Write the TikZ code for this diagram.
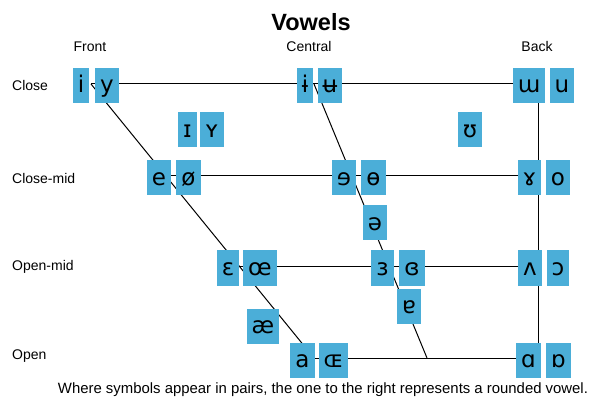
\documentclass[tikz,border=0pt]{standalone}
\usepackage{fontspec}
\setmainfont{Liberation Sans}
\newfontfamily\ipafont{DejaVu Sans}
\usetikzlibrary{calc}
\definecolor{vowelblue}{RGB}{75,174,216}
\tikzstyle{vowel}=[fill=vowelblue, font=\ipafont\fontsize{23}{23}\selectfont, inner xsep=5pt, inner ysep=4pt, text height=21pt, text depth=6pt]
\tikzstyle{rowlabel}=[anchor=west, inner sep=0pt, font=\fontsize{14}{14}\selectfont]
\tikzstyle{collabel}=[inner sep=0pt, font=\fontsize{14}{14}\selectfont]
\tikzstyle{edge}=[line width=1pt]
\newcommand{\closeY}{84}
\newcommand{\openY}{358}

\begin{document}
\begin{tikzpicture}[x=1pt,y=-1pt]
\useasboundingbox (0,0) rectangle (596,411);
% corners of the trapezoid
\coordinate (cf) at (91,\closeY);
\coordinate (of) at (314,\openY);
\coordinate (cc) at (314,\closeY);
\coordinate (oc) at (427,\openY);
\coordinate (cb) at (538,\closeY);
\coordinate (ob) at (538,\openY);
\coordinate (cmf) at ($(cf)!1/3!(of)$);
\coordinate (cmb) at ($(cb)!1/3!(ob)$);
\coordinate (omf) at ($(cf)!2/3!(of)$);
\coordinate (omb) at ($(cb)!2/3!(ob)$);
\draw[edge] (cf) -- (cb);
\draw[edge] (cmf) -- (cmb);
\draw[edge] (omf) -- (omb);
\draw[edge] (of) -- (ob);
\draw[edge] (cf) -- (of);
\draw[edge] (cc) -- (oc);
\draw[edge] (cb) -- (ob);
% headings
\node[font=\bfseries\fontsize{23.5}{23.5}\selectfont] (title) at (311,22) {Vowels};
\node[collabel] (front) at (90,47) {Front};
\node[collabel] (central) at (309,47) {Central};
\node[collabel] (back) at (537,47) {Back};
\node[rowlabel] (close) at (12,85) {Close};
\node[rowlabel] (closemid) at (12,178) {Close-mid};
\node[rowlabel] (openmid) at (12,267) {Open-mid};
\node[rowlabel] (open) at (12,356) {Open};
% close
\node[vowel] (i) at (81,85.5) {i};
\node[vowel] (y) at (107,85.5) {y};
\node[vowel] (ibar) at (305,85.5) {ɨ};
\node[vowel] (ubar) at (330,85.5) {ʉ};
\node[vowel] (mturn) at (529,85.5) {ɯ};
\node[vowel] (u) at (562,85.5) {u};
% near-close
\node[vowel] (smallI) at (187.5,130) {ɪ};
\node[vowel] (smallY) at (212,130) {ʏ};
\node[vowel] (upsilon) at (470,130) {ʊ};
% close-mid
\node[vowel] (e) at (159,178) {e};
\node[vowel] (oslash) at (188.5,178) {ø};
\node[vowel] (reve) at (344,178) {ɘ};
\node[vowel] (obar) at (373.5,178) {ɵ};
\node[vowel] (ramshorn) at (529.5,178) {ɤ};
\node[vowel] (o) at (558,178) {o};
% mid
\node[vowel] (schwa) at (375,223) {ə};
% open-mid
\node[vowel] (eps) at (228,268) {ɛ};
\node[vowel] (oe) at (260,268) {œ};
\node[vowel] (reveps) at (382.5,268) {ɜ};
\node[vowel] (closedreveps) at (412,268) {ɞ};
\node[vowel] (wedge) at (530,268) {ʌ};
\node[vowel] (openo) at (558,268) {ɔ};
% near-open
\node[vowel] (turneda) at (409,306) {ɐ};
\node[vowel] (ash) at (263,326) {æ};
% open
\node[vowel] (a) at (302.5,360) {a};
\node[vowel] (smallOE) at (333.5,360) {ɶ};
\node[vowel] (scripta) at (528.5,360) {ɑ};
\node[vowel] (turnedscripta) at (558.5,360) {ɒ};
\node[inner sep=0pt, font=\fontsize{14.9}{14.9}\selectfont] (note) at (323,390) {Where symbols appear in pairs, the one to the right represents a rounded vowel.};
\end{tikzpicture}
\end{document}
